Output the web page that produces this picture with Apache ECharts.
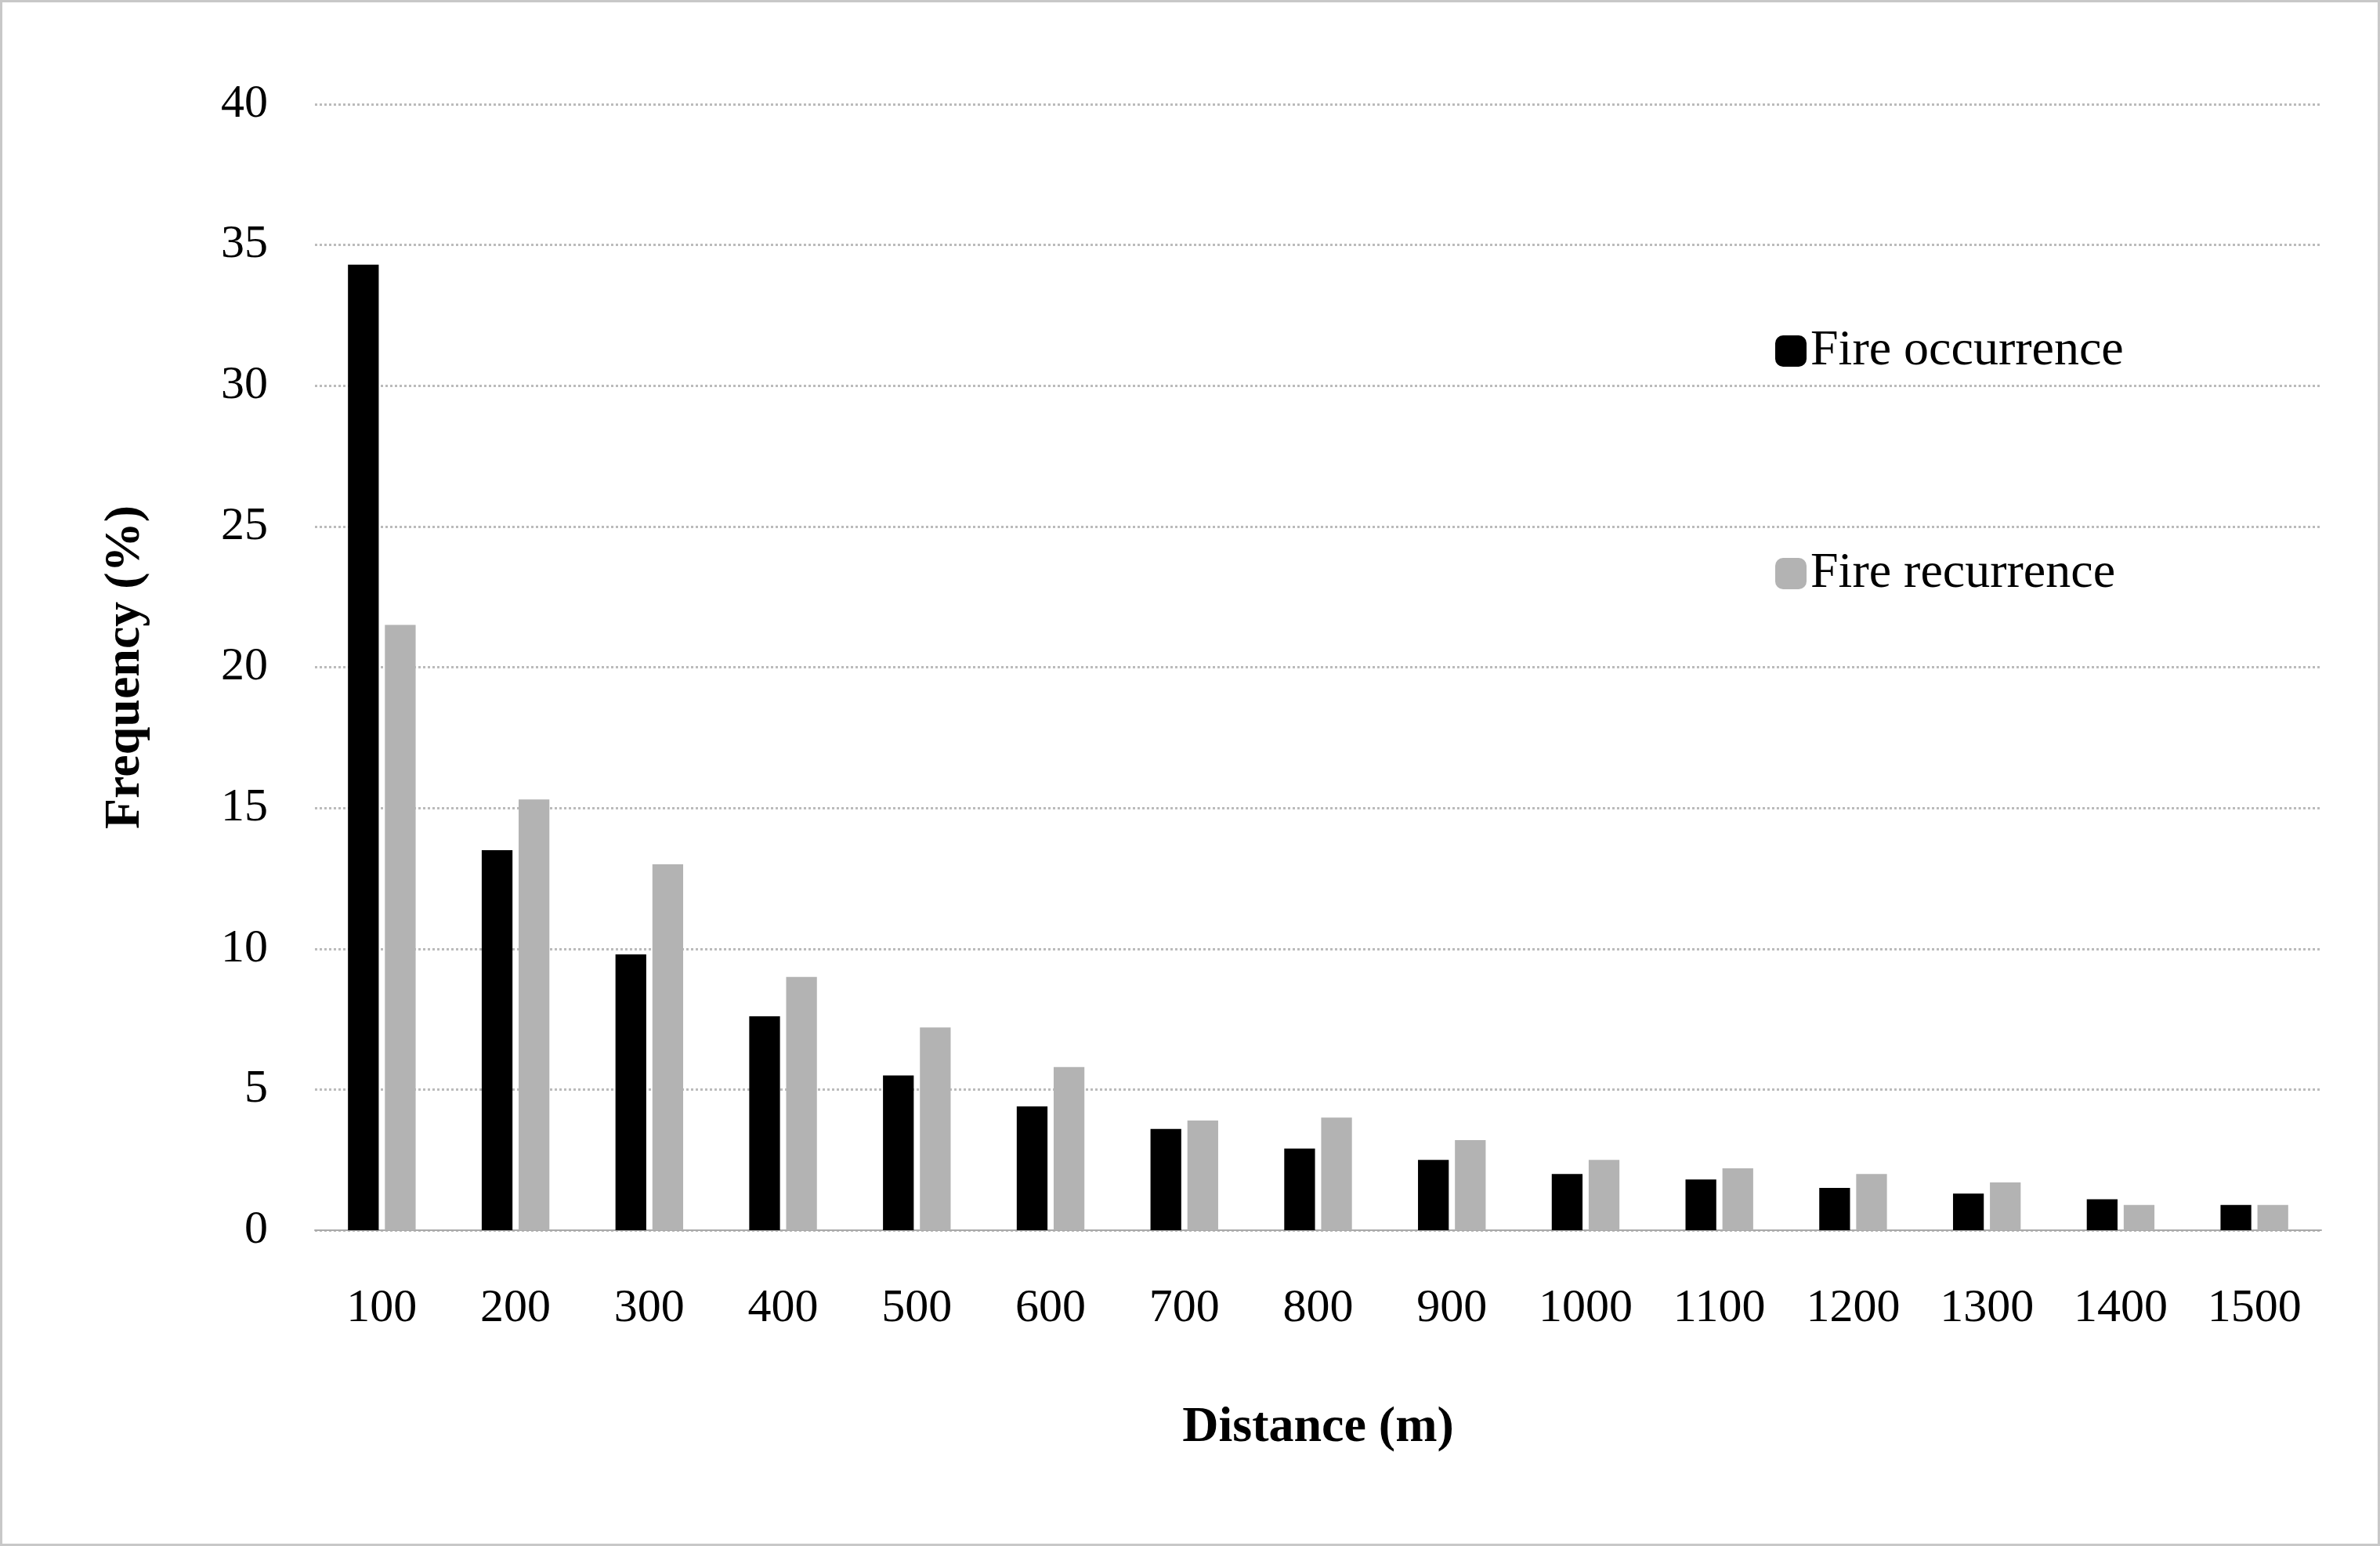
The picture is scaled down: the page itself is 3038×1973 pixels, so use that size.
<!DOCTYPE html>
<html>
<head>
<meta charset="utf-8">
<script src="https://cdn.jsdelivr.net/npm/echarts@6/dist/echarts.min.js"></script>
<style>
html,body{margin:0;padding:0;background:#fff;}
#main{width:3038px;height:1973px;box-sizing:border-box;border:3px solid #c8c8c8;}
</style>
</head>
<body>
<div id="main"></div>
<script>
var categories = ['100','200','300','400','500','600','700','800','900','1000','1100','1200','1300','1400','1500'];
var occurrence = [34.3, 13.5, 9.8, 7.6, 5.5, 4.4, 3.6, 2.9, 2.5, 2.0, 1.8, 1.5, 1.3, 1.1, 0.9];
var recurrence = [21.5, 15.3, 13.0, 9.0, 7.2, 5.8, 3.9, 4.0, 3.2, 2.5, 2.2, 2.0, 1.7, 0.9, 0.9];

var font = 'Liberation Serif';
var chart = echarts.init(document.getElementById('main'));
chart.setOption({
    animation: false,
    textStyle: {fontFamily: font, color: '#000'},
    grid: {left: 399, right: 72, top: 130, bottom: 400},
    legend: {
        orient: 'vertical',
        left: 2258,
        top: 408,
        itemWidth: 40,
        itemHeight: 40,
        itemGap: 220,
        textStyle: {fontFamily: font, fontSize: 64, color: '#000'},
        data: ['Fire occurrence', 'Fire recurrence']
    },
    xAxis: {
        type: 'category',
        data: categories,
        name: 'Distance (m)',
        nameLocation: 'middle',
        nameGap: 220,
        nameTextStyle: {fontFamily: font, fontSize: 64, fontWeight: 'bold', color: '#000'},
        axisLine: {lineStyle: {color: '#aaa', width: 2}},
        axisTick: {show: false},
        axisLabel: {fontFamily: font, fontSize: 60, color: '#000', margin: 70, interval: 0}
    },
    yAxis: {
        type: 'value',
        min: 0,
        max: 40,
        interval: 5,
        name: 'Frequency (%)',
        nameLocation: 'middle',
        nameGap: 210,
        nameTextStyle: {fontFamily: font, fontSize: 64, fontWeight: 'bold', color: '#000'},
        axisLine: {show: false},
        axisTick: {show: false},
        axisLabel: {fontFamily: font, fontSize: 60, color: '#000', margin: 60},
        splitLine: {lineStyle: {color: '#bbb', width: 3, type: 'dotted'}}
    },
    series: [
        {
            name: 'Fire occurrence',
            type: 'bar',
            data: occurrence,
            barWidth: '23%',
            barGap: '20%',
            itemStyle: {color: '#000'}
        },
        {
            name: 'Fire recurrence',
            type: 'bar',
            data: recurrence,
            barWidth: '23%',
            itemStyle: {color: '#b3b3b3'}
        }
    ]
});
</script>
</body>
</html>
